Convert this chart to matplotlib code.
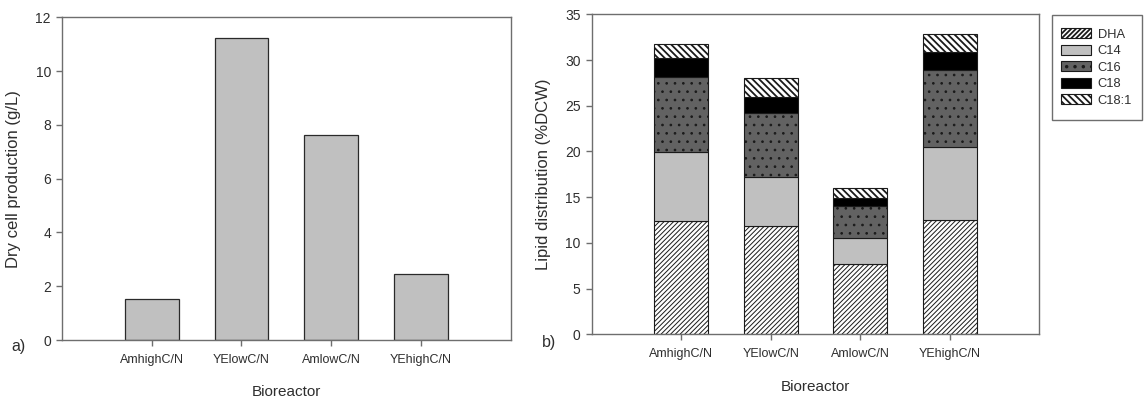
import matplotlib
matplotlib.use("Agg")
import matplotlib.pyplot as plt
from matplotlib.patches import Rectangle
import numpy as np

plt.rcParams['font.family'] = ['Liberation Sans', 'DejaVu Sans']
plt.rcParams['hatch.linewidth'] = 0.7
plt.rcParams['hatch.color'] = '#1a1a1a'

categories = ['AmhighC/N', 'YElowC/N', 'AmlowC/N', 'YEhighC/N']
dry_cell = [1.52, 11.22, 7.64, 2.45]

lipid_names = ['DHA', 'C14', 'C16', 'C18', 'C18:1']
dha = [12.36, 11.81, 7.66, 12.50]
c14 = [7.61, 5.39, 2.91, 8.02]
c16 = [8.21, 7.04, 3.46, 8.38]
c18 = [2.01, 1.68, 0.84, 2.00]
c181 = [1.51, 2.08, 1.10, 1.95]

W, H = 1145, 398
fig = plt.figure(figsize=(W / 100, H / 100), dpi=100)

spine_c = '#6e6e6e'
txt_c = '#2e2e2e'

def style(ax):
    for s in ax.spines.values():
        s.set_color(spine_c)
        s.set_linewidth(1.0)
    ax.tick_params(axis='both', colors=spine_c, labelcolor=txt_c,
                   direction='out', length=4, width=1.0)
    ax.tick_params(axis='x', pad=6, labelsize=9)
    ax.tick_params(axis='y', pad=4, labelsize=10)

x = np.arange(len(categories))

# Left panel
ax1 = fig.add_axes([62 / W, (H - 340) / H, (510.7 - 62) / W, (340 - 17.3) / H])
ax1.bar(x, dry_cell, width=0.6, color='#c0c0c0', edgecolor='#2a2a2a', linewidth=0.9)
ax1.set_xlim(-1, 4)
ax1.set_ylim(0, 12)
ax1.set_yticks(np.arange(0, 13, 2))
ax1.set_xticks(x)
ax1.set_xticklabels(categories)
ax1.set_ylabel('Dry cell production (g/L)', fontsize=12, color=txt_c, labelpad=10)
ax1.set_xlabel('Bioreactor', fontsize=11, color=txt_c, labelpad=14)
style(ax1)
fig.text(19 / W, 1 - 347 / H, 'a)', fontsize=11.5, color=txt_c, ha='center', va='center')

# Right panel
ax2 = fig.add_axes([591.7 / W, (H - 334.3) / H, (1039.3 - 591.7) / W, 320 / H])
series = [dha, c14, c16, c18, c181]
faces = ['white', '#c0c0c0', '#626262', 'black', 'white']
hatches = ['///////', None, '..', None, '\\\\\\\\\\']
hatch_lw = [0.7, 0.7, 0.7, 0.7, 1.3]
bottom = np.zeros(len(categories))
handles = []
for name, vals, fc, h, hlw in zip(lipid_names, series, faces, hatches, hatch_lw):
    plt.rcParams['hatch.linewidth'] = hlw
    b = ax2.bar(x, vals, width=0.6, bottom=bottom, color=fc, edgecolor='#1a1a1a',
                linewidth=0.8, hatch=h, label=name)
    handles.append(b)
    bottom = bottom + np.array(vals)
ax2.set_xlim(-1, 4)
ax2.set_ylim(0, 35)
ax2.set_yticks(np.arange(0, 36, 5))
ax2.set_xticks(x)
ax2.set_xticklabels(categories)
ax2.set_ylabel('Lipid distribution (%DCW)', fontsize=12, color=txt_c, labelpad=10)
ax2.set_xlabel('Bioreactor', fontsize=11, color=txt_c, labelpad=14)
style(ax2)
fig.text(549 / W, 1 - 343 / H, 'b)', fontsize=11.5, color=txt_c, ha='center', va='center')

# Legend with a manually drawn frame
bx0, by0, bx1, by1 = 1051.7, 15, 1141.7, 120
fig.patches.append(Rectangle((bx0 / W, 1 - by1 / H), (bx1 - bx0) / W, (by1 - by0) / H,
                             transform=fig.transFigure, facecolor='white',
                             edgecolor=spine_c, linewidth=1.0, zorder=0))
leg = fig.legend(handles=handles, labels=lipid_names, loc='center',
                 bbox_to_anchor=((bx0 + bx1) / 2 / W, 1 - (by0 + by1) / 2 / H),
                 borderaxespad=0, fontsize=9.3, frameon=False,
                 handlelength=2.3, handleheight=0.8, handletextpad=0.5,
                 labelspacing=0.32, borderpad=0.3)
for t in leg.get_texts():
    t.set_color(txt_c)

fig.savefig('out.png', dpi=100, facecolor='white')
